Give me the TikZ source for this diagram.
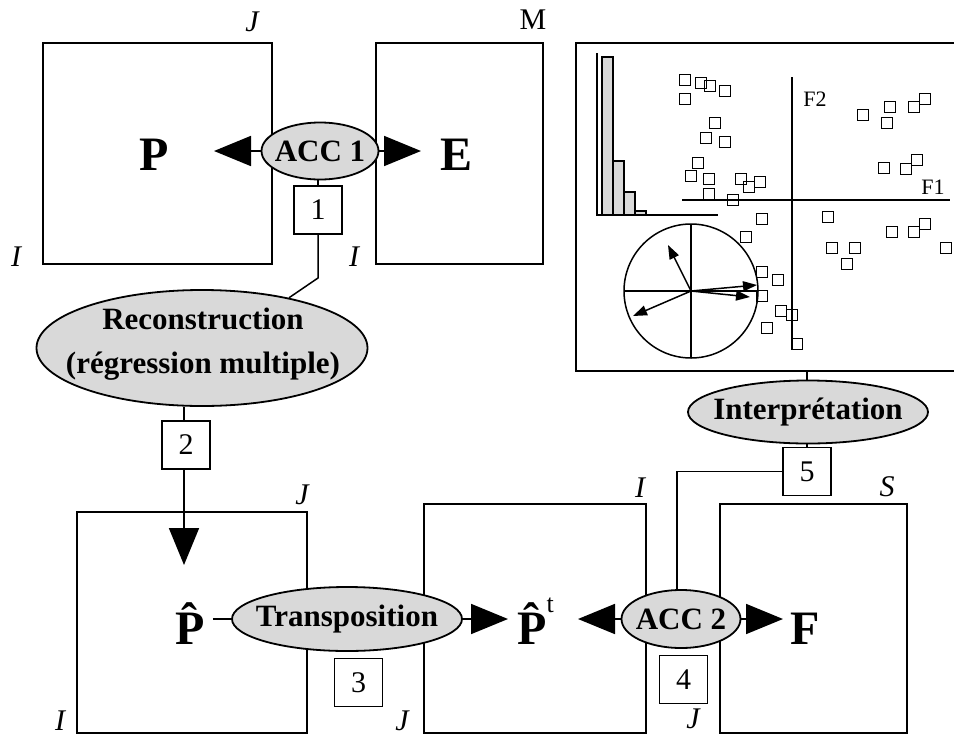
\documentclass[tikz,border=0pt]{standalone}
\usepackage{fontspec}
\setmainfont{Liberation Serif}
\usetikzlibrary{shapes.geometric,arrows.meta}
\definecolor{ovalgray}{RGB}{217,217,217}

\begin{document}
\begin{tikzpicture}[x=1pt, y=-1pt,
    mat/.style={draw, line width=1.8pt, inner sep=0pt},
    oval/.style={draw, ellipse, line width=1.8pt, fill=ovalgray, inner sep=0pt},
    ovaltext/.style={inner sep=0pt, align=center, font=\fontsize{31}{44}\selectfont\bfseries},
    num/.style={draw, line width=1.5pt, minimum width=48pt, minimum height=48pt, inner sep=0pt, font=\fontsize{30}{30}\selectfont},
    big/.style={inner sep=0pt, font=\fontsize{48}{48}\selectfont\bfseries},
    dim/.style={inner sep=0pt, font=\fontsize{30}{30}\selectfont\itshape},
    link/.style={line width=1.5pt},
    bigarrow/.style={line width=1.8pt, -{Triangle[length=37pt,width=30pt]}},
    smallarrow/.style={line width=1.5pt, -{Triangle[length=14pt,width=10pt]}},
    plot/.style={line width=1.5pt}
  ]
  \useasboundingbox (0,0) rectangle (954,737);

  % tables
  \node[mat, minimum width=229pt, minimum height=221pt] (pbox) at (157.5,153.5) {};
  \node[mat, minimum width=167pt, minimum height=221pt] (ebox) at (459.5,153.5) {};
  \node[mat, minimum width=380pt, minimum height=328pt] (chart) at (766,207) {};
  \node[mat, minimum width=230pt, minimum height=221pt] (phatbox) at (192,622.5) {};
  \node[mat, minimum width=222pt, minimum height=229pt] (ptbox) at (535,618.5) {};
  \node[mat, minimum width=187pt, minimum height=229pt] (fbox) at (813.5,618.5) {};

  % dimensions
  \node[dim] (dj1) at (252,22) {J};
  \node[dim, font=\fontsize{30}{30}\selectfont] (dm) at (533,20) {M};
  \node[dim] (di1) at (16,257) {I};
  \node[dim] (di2) at (354,257) {I};
  \node[dim] (dj2) at (302,495) {J};
  \node[dim] (di3) at (60,721) {I};
  \node[dim] (dj3) at (402,721) {J};
  \node[dim] (di4) at (640,488) {I};
  \node[dim] (dj4) at (693,719) {J};
  \node[dim] (ds) at (887,487) {S};

  % matrix letters
  \node[big, anchor=base] (pmat) at (154,170) {P};
  \node[big, anchor=base] (emat) at (457,170) {E};
  \node[big, anchor=base] (phat) at (190,644) {\^{P}};
  \node[big, anchor=base west] (ptr) at (517,644) {\^{P}\raisebox{32pt}{\fontsize{26}{26}\selectfont\mdseries t}};
  \node[big, anchor=base] (fmat) at (805,644) {F};

  % chart: eigenvalues
  \draw[plot] (597,53) |- (718,215);
  \foreach \xa/\ya in {602/57, 613/161, 624/192, 635/211}
    \draw[plot, fill=ovalgray] (\xa,\ya) rectangle (\xa+11,215);
  % chart: factor plane
  \draw[plot] (682,200) -- (950,200);
  \draw[plot] (792,77) -- (792,350);
  \node[inner sep=0pt, font=\fontsize{22}{22}\selectfont] (f2) at (815,99) {F2};
  \node[inner sep=0pt, font=\fontsize{22}{22}\selectfont] (f1) at (933,187) {F1};
  \foreach \xa/\ya in {685/80, 685/99, 701/83, 710/86, 725/91, 715/123, 706/138, 725/142,
      698/163, 691/176, 709/179, 741/179, 749/187, 760/182, 709/194, 733/200, 762/219, 746/237,
      863/115, 890/107, 887/123, 914/107, 925/99, 884/168, 906/169, 917/160,
      828/217, 892/232, 914/232, 925/224, 946/248, 832/248, 855/248, 847/264,
      762/272, 778/280, 762/296, 781/311, 792/315, 767/328, 797/344}
    \draw[plot] (\xa-5.5,\ya-5.5) rectangle (\xa+5.5,\ya+5.5);
  % chart: correlation circle
  \draw[plot] (691,291) circle (67);
  \draw[plot] (624,291) -- (758,291);
  \draw[plot] (691,224) -- (691,358);
  \draw[smallarrow] (691,291) -- (668,245);
  \draw[smallarrow] (691,291) -- (633,316);
  \draw[smallarrow] (691,291) -- (757,285);
  \draw[smallarrow] (691,291) -- (750,297);

  % operations
  \node[oval, minimum width=117pt, minimum height=57pt] (acc1) at (320,151) {};
  \node[ovaltext] (acc1t) at (acc1) {ACC 1};
  \node[oval, minimum width=331pt, minimum height=116pt] (recon) at (202,348) {};
  \node[ovaltext] (recont) at (203,344) {Reconstruction\\(régression multiple)};
  \node[oval, minimum width=230pt, minimum height=64pt] (trans) at (347,619) {};
  \node[ovaltext] (transt) at (trans) {Transposition};
  \node[oval, minimum width=119pt, minimum height=58pt] (acc2) at (681,619) {};
  \node[ovaltext] (acc2t) at (acc2) {ACC 2};
  \node[oval, minimum width=240pt, minimum height=63pt] (interp) at (808,412) {};
  \node[ovaltext] (interpt) at (interp) {Interprétation};

  % steps
  \node[num] (s1) at (318,210) {1};
  \node[num] (s2) at (186,445) {2};
  \node[num] (s3) at (358.5,682.5) {3};
  \node[num] (s4) at (683.5,679.5) {4};
  \node[num] (s5) at (807,471.5) {5};

  % arrow ends
  \coordinate (tipp) at (214,151);
  \coordinate (tipe) at (421,151);
  \coordinate (tipphat) at (184,565);
  \coordinate (tipptl) at (508,619);
  \coordinate (tipptr) at (578,619);
  \coordinate (tipf) at (783,619);
  \coordinate (bend1) at (318,278);

  \draw[bigarrow] (acc1.west) -- (tipp);
  \draw[bigarrow] (acc1.east) -- (tipe);
  \draw[link] (acc1.south -| s1.north) -- (s1.north);
  \draw[link] (s1.south) -- (bend1) -- (recon.30);
  \draw[link] (s2.north -| tipphat) -- (tipphat |- recon.south);
  \draw[bigarrow] (s2.south -| tipphat) -- (tipphat);
  \draw[link, shorten <=8pt] (phat.east |- trans.west) -- (trans.west);
  \draw[bigarrow] (trans.east) -- (tipptl);
  \draw[bigarrow] (acc2.west) -- (tipptr);
  \draw[bigarrow] (acc2.east) -- (tipf);
  \draw[link] (acc2.north -| 677,0) |- (s5.west);
  \draw[link] (s5.north) -- (s5.north |- interp.south);
  \draw[link] (interp.north -| s5.north) -- (s5.north |- chart.south);
\end{tikzpicture}
\end{document}
